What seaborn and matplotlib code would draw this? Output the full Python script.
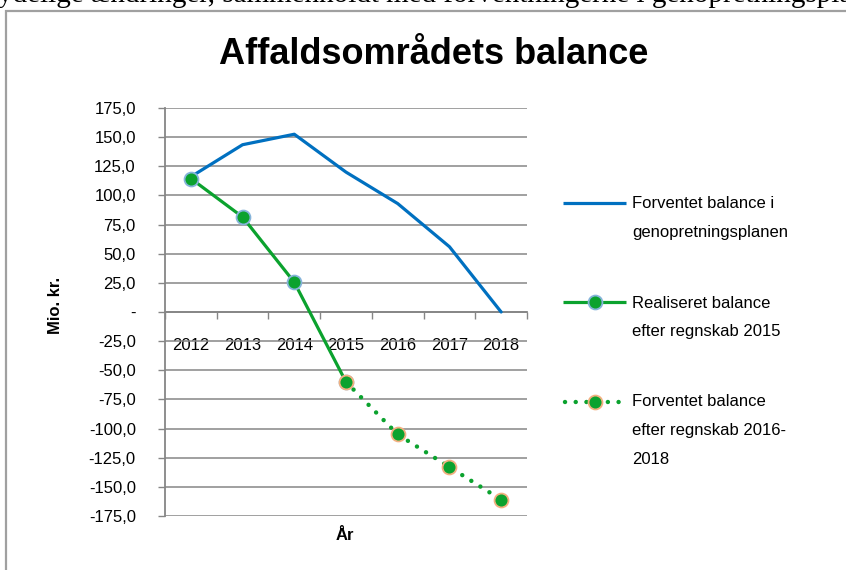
import matplotlib
matplotlib.use('Agg')
import matplotlib.pyplot as plt
import seaborn as sns
import pandas as pd
import numpy as np
from matplotlib.ticker import FuncFormatter

# data (Mio. kr.)
years = ['2012', '2013', '2014', '2015', '2016', '2017', '2018']
plan_values = [116.0, 143.5, 152.5, 120.0, 93.0, 56.0, 0.0]
realised_years = ['2012', '2013', '2014', '2015']
realised_values = [114.5, 81.5, 25.5, -60.0]
expected_years = ['2015', '2016', '2017', '2018']
expected_values = [-60.0, -105.0, -133.0, -161.0]
y_ticks = np.arange(-175, 176, 25)

label_plan = ['Forventet balance i', 'genopretningsplanen']
label_realised = ['Realiseret balance', 'efter regnskab 2015']
label_expected = ['Forventet balance', 'efter regnskab 2016-', '2018']

# colours
blue = '#0070C0'
green = '#0BA22E'
grid_gray = '#868686'

sns.set_theme(style='white')
plt.rcParams['font.family'] = ['Liberation Sans', 'DejaVu Sans']
plt.rcParams['text.color'] = 'black'

pos = {y: i for i, y in enumerate(years)}
df_plan = pd.DataFrame({'x': [pos[y] for y in years], 'v': plan_values})
df_real = pd.DataFrame({'x': [pos[y] for y in realised_years], 'v': realised_values})
df_exp = pd.DataFrame({'x': [pos[y] for y in expected_years], 'v': expected_values})

W, H = 846, 570
fig = plt.figure(figsize=(W / 100, H / 100), dpi=100)
ax = fig.add_axes([165 / W, 1 - 516 / H, 362 / W, 408 / H])

# plot the three series
sns.lineplot(data=df_plan, x='x', y='v', ax=ax, color=blue, linewidth=2.3, zorder=3)
sns.lineplot(data=df_real, x='x', y='v', ax=ax, color=green, linewidth=2.3, marker='o',
             markersize=10, markerfacecolor=green, markeredgecolor='#86b4da', markeredgewidth=1.3,
             zorder=4)
sns.lineplot(data=df_exp, x='x', y='v', ax=ax, color=green, linewidth=3.2,
             linestyle=(0, (0.01, 2.4)), dash_capstyle='round', marker='o',
             markersize=10, markerfacecolor=green, markeredgecolor='#f2b080', markeredgewidth=1.3,
             zorder=5)

# axes setup, excel-like
ax.set_xlim(-0.5, len(years) - 0.5)
ax.set_ylim(-175, 175)
ax.set_yticks(y_ticks)
ax.yaxis.set_major_formatter(FuncFormatter(lambda v, p: '-' if v == 0 else f'{v:.1f}'.replace('.', ',')))
ax.yaxis.grid(True, color=grid_gray, linewidth=1.1)
ax.xaxis.grid(False)
ax.set_axisbelow(True)

ax.set_xticks(np.arange(-0.5, len(years), 1.0))
ax.set_xticklabels([])
ax.set_xticks(np.arange(len(years)), minor=True)
ax.set_xticklabels(years, minor=True)
ax.tick_params(axis='x', which='major', direction='out', length=5, width=1, color=grid_gray, bottom=True)
ax.tick_params(axis='x', which='minor', length=0, pad=19, labelsize=12, labelcolor='black', bottom=True)
ax.tick_params(axis='y', direction='out', length=5, width=1, color=grid_gray, pad=16,
               labelsize=12, labelcolor='black', left=True)

for s in ['top', 'right']:
    ax.spines[s].set_visible(False)
ax.spines['bottom'].set_position(('data', 0))
ax.spines['bottom'].set_color(grid_gray)
ax.spines['bottom'].set_linewidth(1.3)
ax.spines['left'].set_color(grid_gray)
ax.spines['left'].set_linewidth(1.3)
ax.set_xlabel('')
ax.set_ylabel('')

# titles and axis labels
fig.text(434 / W, 1 - 54 / H, 'Affaldsområdets balance', ha='center', va='center',
         fontsize=26, fontweight='bold', color='black')
fig.text(55 / W, 1 - 305 / H, 'Mio. kr.', rotation=90, ha='center', va='center',
         fontsize=12, fontweight='bold', color='black')
fig.text(345 / W, 1 - 535 / H, 'År', ha='center', va='center', fontsize=12, fontweight='bold',
         color='black')

# legend drawn in pixel space on an overlay
lax = fig.add_axes([0, 0, 1, 1])
lax.set_xlim(0, W)
lax.set_ylim(H, 0)
lax.axis('off')
lax.plot([563, 626], [203, 203], color=blue, linewidth=2.3, solid_capstyle='butt')
lax.plot([563, 626], [302, 302], color=green, linewidth=2.3, solid_capstyle='butt')
lax.plot([594.5], [302], 'o', markersize=10, color=green, markeredgecolor='#86b4da', markeredgewidth=1.3)
lax.plot([565, 626], [402, 402], color=green, linewidth=3.2, linestyle=(0, (0.01, 2.4)),
         dash_capstyle='round')
lax.plot([594.5], [402], 'o', markersize=10, color=green, markeredgecolor='#f2b080', markeredgewidth=1.3)
for lines, y0 in [(label_plan, 204), (label_realised, 303), (label_expected, 402)]:
    for i, t in enumerate(lines):
        lax.text(632, y0 + i * 28.5, t, ha='left', va='center', fontsize=12, color='black')

# clipped body text above the chart and the chart frame
fig.text(-2 / W, 1 - 2 / H, 'ydelige ændringer, sammenholdt med forventningerne i genopretningsplanen',
         ha='left', va='baseline', fontsize=21, family='Liberation Serif', color='black')
fig.add_artist(plt.Rectangle((6 / W, -0.1), 1.2, 1.1 - 11 / H, transform=fig.transFigure,
                             fill=False, edgecolor='#a0a0a0', linewidth=1.6))

fig.savefig('out.png', dpi=100)
